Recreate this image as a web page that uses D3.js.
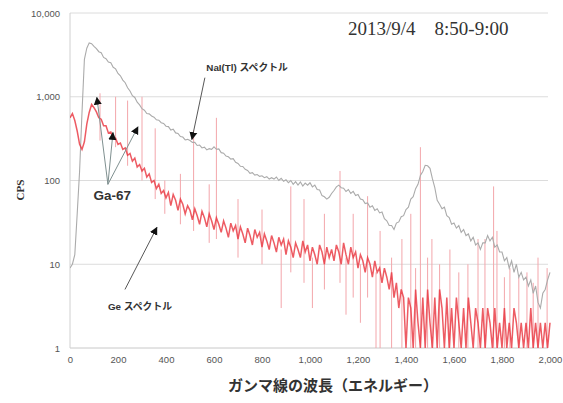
<!DOCTYPE html>
<html><head><meta charset="utf-8">
<script src="https://cdn.jsdelivr.net/npm/d3@7"></script>
<style>body{margin:0;background:#fff}svg{display:block}</style>
</head><body>
<svg id="c" width="563" height="403"></svg>
<script>
// ---- data ----
const xTicks = [0,200,400,600,800,1000,1200,1400,1600,1800,2000];
const yTicks = [1,10,100,1000,10000];
const stepCh = 10; // channel spacing of the series below
// NaI(Tl) spectrum (grey), one value every 10 channels, 0..2000
const naiCps = [
  9, 10, 13, 40, 130, 650, 2800, 3800, 4400, 4300,
  4000, 3750, 3450, 3350, 2950, 2850, 2600, 2550, 2250, 2150,
  1900, 1780, 1580, 1470, 1280, 1170, 1030, 980, 860, 800,
  720, 690, 630, 625, 590, 570, 530, 525, 490, 480,
  445, 440, 400, 410, 370, 365, 335, 330, 305, 310,
  300, 285, 285, 262, 265, 245, 250, 232, 240, 236,
  252, 236, 238, 215, 212, 196, 192, 180, 182, 165,
  160, 148, 147, 136, 132, 122, 124, 116, 118, 112,
  114, 108, 111, 104, 108, 104, 110, 100, 106, 98,
  102, 94, 100, 90, 97, 88, 96, 86, 93, 88,
  94, 84, 88, 78, 77, 66, 64, 60, 63, 70,
  76, 84, 88, 82, 81, 74, 78, 70, 74, 66,
  68, 60, 59, 53, 54, 48, 50, 44, 46, 41,
  42, 35, 33, 29, 29, 26, 31, 32, 37, 38,
  45, 48, 60, 64, 80, 90, 115, 128, 152, 150,
  140, 105, 82, 58, 52, 46, 48, 38, 36, 30,
  31, 27, 29, 24, 26, 22, 23, 19, 21, 17,
  18, 15, 18, 18, 22, 19, 21, 16, 17, 14,
  14, 11, 12, 9, 11, 8, 10, 7, 8, 6.5,
  7, 5.5, 6.5, 4.5, 5.5, 3.5, 3, 4.5, 5, 6.5,
  8
];
// Ge spectrum (red), one value every 10 channels, 0..2000
const geCps = [
  560, 630, 520, 390, 270, 235, 290, 470, 650, 810,
  740, 660, 560, 540, 450, 450, 370, 380, 320, 320,
  270, 280, 235, 245, 200, 210, 170, 185, 145, 155,
  130, 140, 110, 120, 95, 100, 80, 90, 70, 76,
  62, 72, 50, 68, 58, 44, 60, 52, 40, 50,
  44, 34, 46, 38, 30, 43, 36, 28, 40, 33,
  26, 36, 30, 24, 33, 27, 21, 31, 25, 29,
  20, 28, 23, 18, 27, 22, 17, 26, 21, 24,
  16, 23, 19, 15, 22, 18, 14, 21, 17, 20,
  13, 19, 16, 12, 18, 15, 12, 19, 14, 17,
  11, 16, 13, 10, 17, 14, 10, 16, 12, 15,
  11, 17, 14, 10, 18, 13, 10, 16, 12, 14,
  9, 13, 11, 8, 12, 10, 7, 11, 8, 9,
  6, 9, 7, 5, 8, 4, 6, 3, 5, 4,
  1, 4, 3, 1, 5, 2, 1, 4, 1, 5,
  2, 1, 4, 1, 5, 3, 1, 4, 1, 3,
  1, 4, 2, 1, 3, 1, 4, 2, 1, 3,
  2, 1, 3, 1, 3, 2, 1, 3, 1, 2,
  1, 3, 1, 2, 1, 3, 2, 1, 2, 1,
  2, 1, 3, 1, 2, 1, 2, 1, 2, 1,
  2
];
// isolated spikes in the Ge spectrum: [channel, low cps, high cps]
const geSpikes = [
  [125,300,1100],[190,250,1000],[240,150,900],[300,100,1000],[355,60,420],
  [395,40,100],[460,30,120],[515,25,400],[580,18,90],[610,20,560],
  [700,12,60],[800,10,45],[880,3,15],[920,8,85],[975,6,60],[1010,3,12],
  [1060,5,40],[1125,6,130],[1150,2.5,12],[1180,4,40],[1210,2,10],[1240,4,65],
  [1275,1,8],[1292,1,25],[1340,1,12],[1383,1,20],[1420,1,40],[1440,1,9],[1460,1,250],
  [1490,1,12],[1508,1,20],[1540,1,10],[1583,1,15],[1620,1,8],[1658,1,10],[1700,1,20],
  [1729,1,20],[1765,1,85],[1779,1,25],[1810,1,7],[1833,1,9],[1870,1,7],[1904,1,8],
  [1930,1,6],[1950,1,12],[1988,1,9]
];
// annotations (data coordinates)
const gaTips = [[112,980],[179,373],[283,437]];
const gaFrom = [158,90];
const naiArrow = {from:[562,1690], to:[508,310]};
const geArrow = {from:[229,5.0], to:[362,27.5]};
const labels = [
  {text:"NaI(Tl) スペクトル", at:[568,2050], size:9.8},
  {text:"Ga-67", at:[98,58], size:13.5},
  {text:"Ge スペクトル", at:[158,2.85], size:9.8}
];

// ---- drawing ----
const svg = d3.select("#c");
const x = d3.scaleLinear().domain([0,2000]).range([70,550]);
const y = d3.scaleLog().domain([1,10000]).range([348,13]);

const defs = svg.append("defs");
defs.append("clipPath").attr("id","pc")
  .append("rect").attr("x",70).attr("y",5).attr("width",482).attr("height",343);
defs.append("marker").attr("id","ah").attr("viewBox","0 0 10 10")
  .attr("refX",9).attr("refY",5).attr("markerWidth",8).attr("markerHeight",9)
  .attr("markerUnits","userSpaceOnUse").attr("orient","auto")
  .append("path").attr("d","M0,0 L10,5 L0,10 z").attr("fill","#111");

// gridlines
svg.append("g").selectAll("line").data(yTicks).join("line")
  .attr("x1",70).attr("x2",548).attr("y1",d=>y(d)).attr("y2",d=>y(d))
  .attr("stroke",d=>d===1?"#c8c8c8":"#dcdcdc").attr("stroke-width",1);
svg.append("line").attr("x1",70).attr("x2",70).attr("y1",y(10000)).attr("y2",y(1))
  .attr("stroke","#d0d0d0");

// axes labels
const fmt = d3.format(",");
const xAxis = d3.axisBottom(x).tickValues(xTicks).tickFormat(fmt).tickSize(0).tickPadding(8);
const gx = svg.append("g").attr("transform","translate(0,348)").call(xAxis);
gx.select(".domain").remove();
gx.selectAll("text").attr("font-family","Liberation Sans, Arial").attr("font-size",9.5).attr("fill","#555");
const yAxis = d3.axisLeft(y).tickValues(yTicks).tickFormat(fmt).tickSize(0).tickPadding(10);
const gy = svg.append("g").attr("transform","translate(70,0)").call(yAxis);
gy.select(".domain").remove();
gy.selectAll("text").attr("font-family","Liberation Sans, Arial").attr("font-size",9.5).attr("fill","#555");

const plot = svg.append("g").attr("clip-path","url(#pc)");
const clampY = v => y(Math.max(1,v));

// spikes
plot.append("g").selectAll("line").data(geSpikes).join("line")
  .attr("x1",d=>x(d[0])).attr("x2",d=>x(d[0]))
  .attr("y1",d=>clampY(d[1])).attr("y2",d=>clampY(d[2]))
  .attr("stroke","#f3a6ab").attr("stroke-width",1);

// grey NaI line
const line = d3.line().x((d,i)=>x(i*stepCh)).y(d=>clampY(d));
plot.append("path").datum(naiCps).attr("d",line)
  .attr("fill","none").attr("stroke","#ababab").attr("stroke-width",1.1);
// red Ge line
plot.append("path").datum(geCps).attr("d",line)
  .attr("fill","none").attr("stroke","#e8323c").attr("stroke-width",1.5).attr("stroke-opacity",0.8);

// Ga-67 arrows
const ann = svg.append("g");
gaTips.forEach(t=>{
  ann.append("line").attr("x1",x(gaFrom[0])).attr("y1",y(gaFrom[1]))
    .attr("x2",x(t[0])).attr("y2",y(t[1]))
    .attr("stroke","#7f9090").attr("stroke-width",1).attr("marker-end","url(#ah)");
});
[naiArrow,geArrow].forEach(a=>{
  ann.append("line").attr("x1",x(a.from[0])).attr("y1",y(a.from[1]))
    .attr("x2",x(a.to[0])).attr("y2",y(a.to[1]))
    .attr("stroke","#444").attr("stroke-width",0.9).attr("marker-end","url(#ah)");
});
labels.forEach(l=>{
  ann.append("text").attr("x",x(l.at[0])).attr("y",y(l.at[1]))
    .attr("font-family","Liberation Sans, Noto Sans CJK JP").attr("font-weight","bold")
    .attr("font-size",l.size).attr("fill","#333").text(l.text);
});

// titles
svg.append("text").attr("x",348).attr("y",35)
  .attr("font-family","Liberation Serif, DejaVu Serif").attr("font-size",19).attr("fill","#333")
  .text("2013/9/4\u00a0\u00a0\u00a0\u00a08:50-9:00");
svg.append("text").attr("transform","translate(24,190) rotate(-90)").attr("text-anchor","middle")
  .attr("font-family","Liberation Serif, DejaVu Serif").attr("font-weight","bold").attr("font-size",11).attr("fill","#333")
  .text("CPS");
svg.append("text").attr("x",333).attr("y",391).attr("text-anchor","middle")
  .attr("font-family","Noto Sans CJK JP").attr("font-weight","bold").attr("font-size",15).attr("fill","#333")
  .text("ガンマ線の波長（エネルギー）");
</script>
</body></html>
